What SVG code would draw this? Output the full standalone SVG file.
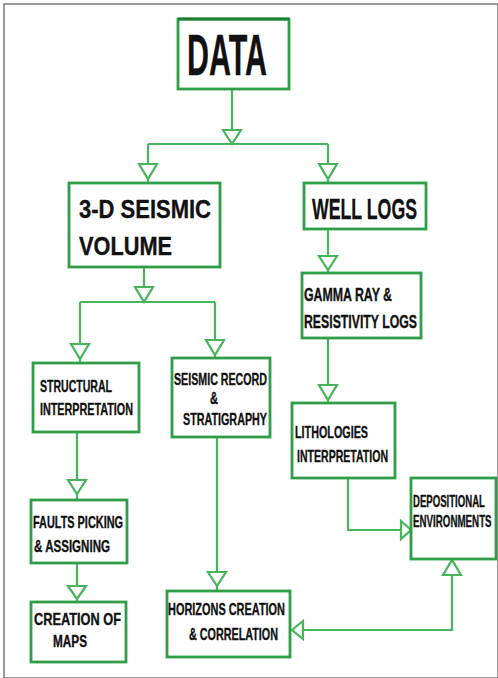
<svg xmlns="http://www.w3.org/2000/svg" width="498" height="678" viewBox="0 0 498 678">
<style>
.box{fill:#fff;stroke:#2f9e46;stroke-width:2.8}
.ln{fill:none;stroke:#48b55c;stroke-width:2.2}
.tri{fill:#fff;stroke:#48b55c;stroke-width:2.2;stroke-linejoin:miter}
.t{font-family:"Liberation Sans",Arial,sans-serif;font-weight:bold;fill:#111;stroke:#111;stroke-width:0.35}
</style>
<rect x="0" y="0" width="498" height="678" fill="#fff"/>
<g id="connectors">
<path class="ln" d="M232,89V130 M148,144H328 M148,144V164 M328,144V164 M148,179V183 M328,179V183"/>
<path class="tri" d="M223,130H241L232,144Z M139,164H157L148,179Z M319,164H337L328,179Z"/>
<path class="ln" d="M144,267V287 M80,302H215 M80,302V344 M215,302V340 M80,359V363 M215,355V358"/>
<path class="tri" d="M135,287H153L144,302Z M71,344H89L80,359Z M206,340H224L215,355Z"/>
<path class="ln" d="M328,229V256 M328,270V273 M328,338V385 M328,400V403"/>
<path class="tri" d="M319,256H337L328,270Z M319,385H337L328,400Z"/>
<path class="ln" d="M77,432V480 M77,494V500 M77,563V586 M77,599V602"/>
<path class="tri" d="M68,480H86L77,494Z M68,586H86L77,599Z"/>
<path class="ln" d="M217,437V572 M217,586V591"/>
<path class="tri" d="M208,572H226L217,586Z"/>
<path class="ln" d="M348,478V530H401"/>
<path class="tri" d="M401,521V539L411,530Z"/>
<path class="ln" d="M452,575V630H303"/>
<path class="tri" d="M443,575H461L452,560Z M303,621V639L292,630Z"/>
</g>
<g id="data">
<rect class="box" x="178" y="19" width="111" height="70"/>
<path d="M178,19H289" stroke="#1e7f35" stroke-width="3"/>
<text class="t" x="187" y="75" font-size="58" textLength="80" lengthAdjust="spacingAndGlyphs">DATA</text>
</g>
<g id="seismic-volume">
<rect class="box" x="69" y="183" width="151" height="84"/>
<text class="t" x="79" y="218" font-size="26" textLength="132" lengthAdjust="spacingAndGlyphs">3-D SEISMIC</text>
<text class="t" x="79" y="255" font-size="26" textLength="93" lengthAdjust="spacingAndGlyphs">VOLUME</text>
</g>
<g id="well-logs">
<rect class="box" x="304" y="183" width="122" height="46"/>
<text class="t" x="312" y="219" font-size="30" textLength="105" lengthAdjust="spacingAndGlyphs">WELL LOGS</text>
</g>
<g id="gamma">
<rect class="box" x="302" y="273" width="119" height="65"/>
<text class="t" x="304" y="301" font-size="18" textLength="88" lengthAdjust="spacingAndGlyphs">GAMMA RAY &amp;</text>
<text class="t" x="304" y="328" font-size="18" textLength="113" lengthAdjust="spacingAndGlyphs">RESISTIVITY LOGS</text>
</g>
<g id="structural">
<rect class="box" x="33" y="363" width="106" height="69"/>
<text class="t" x="40" y="392" font-size="16.5" textLength="72" lengthAdjust="spacingAndGlyphs">STRUCTURAL</text>
<text class="t" x="40" y="415" font-size="16.5" textLength="93" lengthAdjust="spacingAndGlyphs">INTERPRETATION</text>
</g>
<g id="seismic-record">
<rect class="box" x="172" y="358" width="98" height="79"/>
<text class="t" x="174" y="385" font-size="16.5" textLength="93" lengthAdjust="spacingAndGlyphs">SEISMIC RECORD</text>
<text class="t" x="210" y="404" font-size="16.5" textLength="8" lengthAdjust="spacingAndGlyphs">&amp;</text>
<text class="t" x="183" y="425" font-size="16.5" textLength="84" lengthAdjust="spacingAndGlyphs">STRATIGRAPHY</text>
</g>
<g id="lithologies">
<rect class="box" x="292" y="403" width="103" height="75"/>
<text class="t" x="295" y="438" font-size="16.5" textLength="73" lengthAdjust="spacingAndGlyphs">LITHOLOGIES</text>
<text class="t" x="297" y="462" font-size="16.5" textLength="91" lengthAdjust="spacingAndGlyphs">INTERPRETATION</text>
</g>
<g id="faults">
<rect class="box" x="31" y="500" width="96" height="63"/>
<text class="t" x="33" y="528" font-size="16.5" textLength="90" lengthAdjust="spacingAndGlyphs">FAULTS PICKING</text>
<text class="t" x="34" y="552" font-size="16.5" textLength="76" lengthAdjust="spacingAndGlyphs">&amp; ASSIGNING</text>
</g>
<g id="maps">
<rect class="box" x="31" y="602" width="95" height="60"/>
<text class="t" x="34" y="625" font-size="16.5" textLength="87" lengthAdjust="spacingAndGlyphs">CREATION OF</text>
<text class="t" x="53" y="647" font-size="16.5" textLength="34" lengthAdjust="spacingAndGlyphs">MAPS</text>
</g>
<g id="horizons">
<rect class="box" x="167" y="591" width="123" height="66"/>
<text class="t" x="168" y="615" font-size="16.5" textLength="117" lengthAdjust="spacingAndGlyphs">HORIZONS CREATION</text>
<text class="t" x="189" y="640" font-size="16.5" textLength="89" lengthAdjust="spacingAndGlyphs">&amp; CORRELATION</text>
</g>
<g id="depositional">
<rect class="box" x="411" y="478" width="85" height="81"/>
<text class="t" transform="translate(413,507) scale(0.6,1)" x="0" y="0" font-size="16">DEPOSITIONAL</text>
<text class="t" transform="translate(413,527) scale(0.61,1)" x="0" y="0" font-size="16">ENVIRONMENTS</text>
</g>
<rect x="4" y="4" width="494" height="674" fill="none" stroke="#7a7a7a" stroke-width="1.5"/>
</svg>
